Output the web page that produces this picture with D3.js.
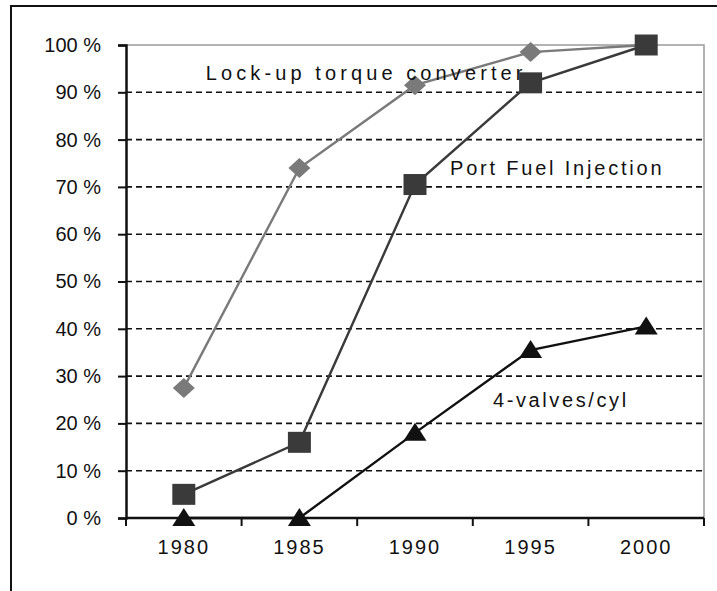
<!DOCTYPE html>
<html>
<head>
<meta charset="utf-8">
<script src="https://cdn.jsdelivr.net/npm/d3@7"></script>
<style>
  body { margin: 0; background: #fff; }
  svg text { font-family: "Liberation Sans", Arial, sans-serif; fill: #111; }
</style>
</head>
<body>
<svg></svg>
<script>
const years = ["1980", "1985", "1990", "1995", "2000"];
const lockup = [27.5, 74, 91.5, 98.5, 100];
const portFuel = [5, 16, 70.5, 92, 100];
const valves = [0, 0, 18, 35.5, 40.5];
const yTicks = [0, 10, 20, 30, 40, 50, 60, 70, 80, 90, 100];

const svgWidth = 717, svgHeight = 591;
const margin = { top: 45, right: 13, bottom: 73, left: 126 };
const width = svgWidth - margin.left - margin.right;
const height = svgHeight - margin.top - margin.bottom;

const svg = d3.select("svg")
    .attr("width", svgWidth)
    .attr("height", svgHeight);

// outer frame (runs off right and bottom edges)
svg.append("rect")
    .attr("x", 11).attr("y", 6)
    .attr("width", 720).attr("height", 620)
    .attr("fill", "none")
    .attr("stroke", "#111")
    .attr("stroke-width", 2);

const g = svg.append("g")
    .attr("transform", "translate(" + margin.left + "," + margin.top + ")");

const x = d3.scaleBand().domain(years).range([0, width]);
const y = d3.scaleLinear().domain([0, 100]).range([height, 0]);
const cx = function(d) { return x(d) + x.bandwidth() / 2; };

// plot box top/right
g.append("path")
    .attr("d", "M0,0H" + width + "V" + height)
    .attr("fill", "none")
    .attr("stroke", "#999")
    .attr("stroke-width", 1.5);

// dashed grid
g.selectAll(".grid")
    .data(yTicks.filter(function(d) { return d > 0 && d < 100; }))
    .enter().append("line")
    .attr("x1", 0).attr("x2", width)
    .attr("y1", function(d) { return y(d); })
    .attr("y2", function(d) { return y(d); })
    .attr("stroke", "#111")
    .attr("stroke-width", 1.6)
    .attr("stroke-dasharray", "6,4");

// y axis
const yAxis = g.append("g")
    .call(d3.axisLeft(y).tickValues(yTicks).tickSize(8).tickPadding(17)
        .tickFormat(function(d) { return d + " %"; }));
yAxis.select(".domain").attr("stroke", "#111").attr("stroke-width", 2.5);
yAxis.selectAll(".tick line").attr("stroke", "#111").attr("stroke-width", 2);
yAxis.selectAll("text")
    .style("font-size", "20px")
    .style("letter-spacing", "0px")
    .attr("fill", "#111");

// x axis
const xAxis = g.append("g")
    .attr("transform", "translate(0," + height + ")")
    .call(d3.axisBottom(x).tickSize(0).tickPadding(22));
xAxis.select(".domain").remove();
xAxis.selectAll("text")
    .style("font-size", "20px")
    .style("letter-spacing", "2px")
    .attr("fill", "#111");

g.append("line")
    .attr("x1", 0).attr("x2", width)
    .attr("y1", height).attr("y2", height)
    .attr("stroke", "#111").attr("stroke-width", 2.5);

g.selectAll(".xtick")
    .data(d3.range(years.length + 1))
    .enter().append("line")
    .attr("x1", function(i) { return i * x.step(); })
    .attr("x2", function(i) { return i * x.step(); })
    .attr("y1", height).attr("y2", height + 8)
    .attr("stroke", "#111").attr("stroke-width", 2);

const line = d3.line()
    .x(function(d, i) { return cx(years[i]); })
    .y(function(d) { return y(d); });

function series(values, color, shape, w, h) {
    g.append("path")
        .datum(values)
        .attr("fill", "none")
        .attr("stroke", color)
        .attr("stroke-width", 2.4)
        .attr("d", line);
    g.selectAll(null)
        .data(values)
        .enter().append("path")
        .attr("transform", function(d, i) {
            return "translate(" + cx(years[i]) + "," + y(d) + ")";
        })
        .attr("d", shape(w, h))
        .attr("fill", color);
}

const diamond = function(w, h) {
    return "M0," + (-h / 2) + "L" + (w / 2) + ",0L0," + (h / 2) + "L" + (-w / 2) + ",0Z";
};
const square = function(w, h) {
    return "M" + (-w / 2) + "," + (-h / 2) + "h" + w + "v" + h + "h" + (-w) + "Z";
};
const triangle = function(w, h) {
    return "M0," + (-h / 2 - 1) + "L" + (w / 2) + "," + (h / 2 - 1) + "L" + (-w / 2) + "," + (h / 2 - 1) + "Z";
};

series(lockup, "#7a7a7a", diamond, 22, 20);
series(portFuel, "#3a3a3a", square, 23, 21);
series(valves, "#111", triangle, 23, 18);

// series labels
function label(text, xPos, yVal, spacing) {
    g.append("text")
        .attr("x", xPos)
        .attr("y", y(yVal))
        .style("font-size", "20px")
        .style("letter-spacing", spacing + "px")
        .text(text);
}
label("Lock-up torque converter", cx("1980") + 22, 92.5, 4.1);
label("Port Fuel Injection", cx("1990") + 35, 72.5, 2.8);
label("4-valves/cyl", cx("1990") + 78, 23.5, 2.6);
</script>
</body>
</html>
